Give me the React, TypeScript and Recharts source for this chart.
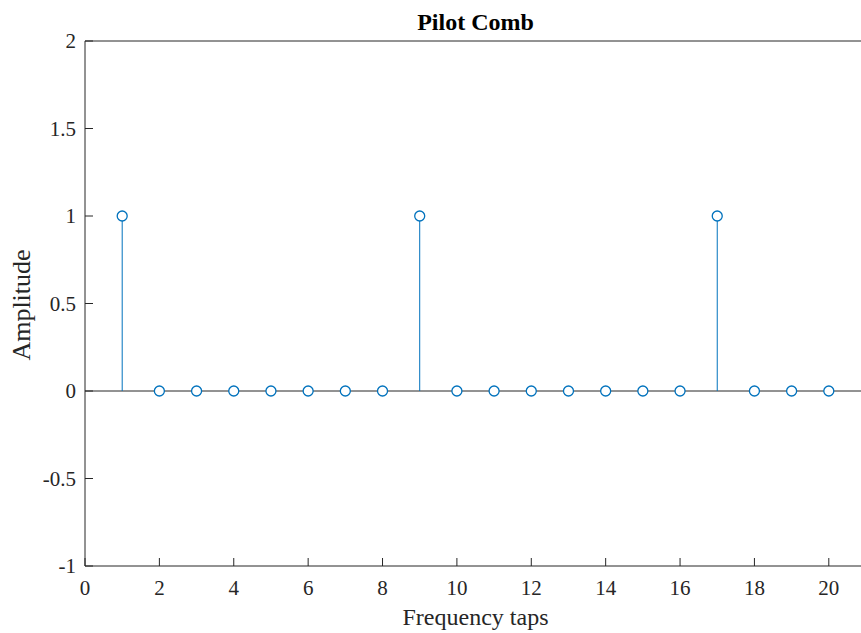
import React from "react";
import {
  ScatterChart, Scatter, XAxis, YAxis, ErrorBar, ReferenceLine,
} from "recharts";

// Pilot positions in the comb: one pilot every 8 taps
const taps = [1, 2, 3, 4, 5, 6, 7, 8, 9, 10, 11, 12, 13, 14, 15, 16, 17, 18, 19, 20];
const amplitude = [1, 0, 0, 0, 0, 0, 0, 0, 1, 0, 0, 0, 0, 0, 0, 0, 1, 0, 0, 0];
const xTicks = [0, 2, 4, 6, 8, 10, 12, 14, 16, 18, 20];
const yTicks = [-1, -0.5, 0, 0.5, 1, 1.5, 2];

const STEM = "#0072BD";
const AXIS = "#262626";
const FONT = "'Liberation Serif', 'Times New Roman', serif";
const TICK_LEN = 8;

// stem = error bar running from 0 up to the value
const data = taps.map((t, i) => ({ tap: t, amp: amplitude[i], stem: [amplitude[i], 0] }));

const BottomTick = (p: any) => (
  <g>
    <line x1={p.x} y1={p.y} x2={p.x} y2={p.y - TICK_LEN} stroke={AXIS} />
    <text x={p.x} y={p.y + 29} textAnchor="middle" fontFamily={FONT} fontSize={21} fill={AXIS}>
      {p.payload.value}
    </text>
  </g>
);
const TopTick = (p: any) => (
  <line x1={p.x} y1={p.y} x2={p.x} y2={p.y + TICK_LEN} stroke={AXIS} />
);
const LeftTick = (p: any) => (
  <g>
    <line x1={p.x} y1={p.y} x2={p.x + TICK_LEN} y2={p.y} stroke={AXIS} />
    <text x={p.x - 9} y={p.y + 7} textAnchor="end" fontFamily={FONT} fontSize={21} fill={AXIS}>
      {p.payload.value}
    </text>
  </g>
);
const RightTick = (p: any) => (
  <line x1={p.x} y1={p.y} x2={p.x - TICK_LEN} y2={p.y} stroke={AXIS} />
);

const Marker = (p: any) => (
  <circle cx={p.cx} cy={p.cy} r={5} fill="#fff" stroke={STEM} strokeWidth={1.3} />
);

export default function App() {
  return (
    <div style={{ position: "absolute", left: 0, top: 0, width: 861, height: 633, overflow: "hidden", background: "#fff" }}>
      <ScatterChart width={870} height={633} margin={{ top: 40, right: 3, bottom: 66, left: 84 }}>
        <XAxis
          xAxisId="b" dataKey="tap" type="number" domain={[0, 21]} ticks={xTicks}
          orientation="bottom" height={1} tickSize={0} tickMargin={0} interval={0}
          stroke={AXIS} tickLine={false} tick={<BottomTick />}
        />
        <XAxis
          xAxisId="t" type="number" domain={[0, 21]} ticks={xTicks}
          orientation="top" height={1} tickSize={0} tickMargin={0} interval={0}
          stroke={AXIS} tickLine={false} tick={<TopTick />}
        />
        <YAxis
          yAxisId="l" dataKey="amp" type="number" domain={[-1, 2]} ticks={yTicks}
          orientation="left" width={1} tickSize={0} tickMargin={0} interval={0}
          stroke={AXIS} tickLine={false} tick={<LeftTick />}
        />
        <YAxis
          yAxisId="r" type="number" domain={[-1, 2]} ticks={yTicks}
          orientation="right" width={1} tickSize={0} tickMargin={0} interval={0}
          stroke={AXIS} tickLine={false} tick={<RightTick />}
        />
        <ReferenceLine xAxisId="b" yAxisId="l" y={0} stroke={AXIS} strokeWidth={1} />
        <Scatter
          xAxisId="b" yAxisId="l" data={data} dataKey="amp"
          shape={<Marker />} isAnimationActive={false}
        >
          <ErrorBar dataKey="stem" direction="y" width={0} stroke={STEM} strokeWidth={1} isAnimationActive={false} />
        </Scatter>
      </ScatterChart>
      <div style={{ position: "absolute", left: 85, width: 781, top: 8, textAlign: "center", fontFamily: FONT, fontSize: 24, fontWeight: "bold", color: "#000", lineHeight: "28px" }}>
        Pilot Comb
      </div>
      <div style={{ position: "absolute", left: 85, width: 781, top: 603, textAlign: "center", fontFamily: FONT, fontSize: 24, color: AXIS, lineHeight: "28px" }}>
        Frequency taps
      </div>
      <div style={{ position: "absolute", left: 22, top: 305, width: 0, height: 0 }}>
        <div style={{ position: "absolute", transform: "translate(-50%, -50%) rotate(-90deg)", whiteSpace: "nowrap", fontFamily: FONT, fontSize: 26, color: AXIS, lineHeight: "28px" }}>
          Amplitude
        </div>
      </div>
    </div>
  );
}
